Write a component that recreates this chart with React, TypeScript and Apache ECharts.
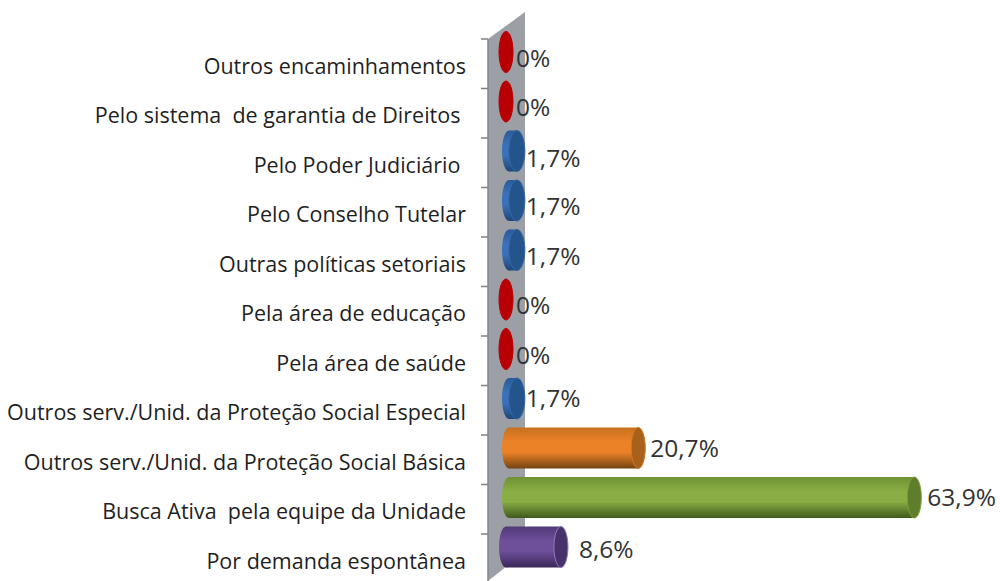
import React, { useEffect, useRef } from "react";
import * as echarts from "echarts";

const categories = [
  "Outros encaminhamentos",
  "Pelo sistema  de garantia de Direitos ",
  "Pelo Poder Judiciário ",
  "Pelo Conselho Tutelar",
  "Outras políticas setoriais",
  "Pela área de educação",
  "Pela área de saúde",
  "Outros serv./Unid. da Proteção Social Especial",
  "Outros serv./Unid. da Proteção Social Básica",
  "Busca Ativa  pela equipe da Unidade",
  "Por demanda espontânea",
];
const values = [0, 0, 1.7, 1.7, 1.7, 0, 0, 1.7, 20.7, 63.9, 8.6];

type Tone = { top: string; mid: string; bottom: string; cap: string; rim: string };
const red: Tone = { top: "#b00000", mid: "#c00006", bottom: "#a80000", cap: "#b80004", rim: "#b80004" };
const blue: Tone = { top: "#2a5a98", mid: "#3a72ba", bottom: "#1f4778", cap: "#24548c", rim: "#3468a8" };
const orange: Tone = { top: "#c8701f", mid: "#ec8228", bottom: "#744412", cap: "#a8611a", rim: "#d0772a" };
const green: Tone = { top: "#6f9233", mid: "#8aae44", bottom: "#3f5a1c", cap: "#5f7e2b", rim: "#7f9f3e" };
const purple: Tone = { top: "#523a78", mid: "#6d4f9a", bottom: "#3b2857", cap: "#46316a", rim: "#9278b8" };
const tones = [red, red, blue, blue, blue, red, red, blue, orange, green, purple];
const startShift = [0, 0, 3, 3, 3, 0, 0, 3, 3, 3, 0];
const labelDx = [3, 3, 2, 2, 2, 3, 3, 2, 5, 6, 11];
const labelDy = [5, 5, 6, 5, 5, 5, 5, -1, -1, -1, 1];

const fmt = (v: number) => String(v).replace(".", ",") + "%";

export default function App() {
  const ref = useRef<HTMLDivElement>(null);
  useEffect(() => {
    document.body.style.margin = "0";
    const chart = echarts.init(ref.current!, null, { renderer: "svg" });
    chart.setOption({
      animation: false,
      backgroundColor: "#ffffff",
      grid: { left: 506, top: 27.25, width: 447.3, height: 544.5, containLabel: false },
      xAxis: { type: "value", min: 0, max: 70, show: false },
      yAxis: {
        type: "category",
        inverse: true,
        data: categories,
        axisLine: { show: false },
        axisTick: { show: false },
        splitLine: { show: false },
        axisLabel: {
          margin: 40,
          fontFamily: "Open Sans",
          fontSize: 21.5,
          color: "#1f1f1f",
          verticalAlign: "top",
          lineHeight: 26,
        },
      },
      graphic: [
        {
          type: "polygon",
          z: 0,
          shape: { points: [[488, 39], [525, 12], [525, 552], [488, 581]] },
          style: { fill: "#9c9fa5" },
        },
        {
          type: "line",
          z: 0,
          shape: { x1: 488, y1: 39, x2: 488, y2: 581 },
          style: { stroke: "#85888d", lineWidth: 1.5 },
        },
      ],
      series: [
        {
          type: "custom",
          coordinateSystem: "cartesian2d",
          clip: false,
          encode: { x: 0, y: 1 },
          data: values.map((v, i) => [v, i]),
          renderItem: (_: any, api: any) => {
            const v = api.value(0);
            const i = api.value(1);
            const [cx, cy] = api.coord([v, i]);
            const [zx] = api.coord([0, i]);
            const rx = 7;
            const ry = 20.5;
            const t = tones[i];
            const sx = zx + startShift[i];
            const grad = {
              type: "linear", x: 0, y: 0, x2: 0, y2: 1,
              colorStops: [
                { offset: 0, color: t.top },
                { offset: 0.35, color: t.mid },
                { offset: 0.6, color: t.mid },
                { offset: 1, color: t.bottom },
              ],
            };
            const children: any[] = [
              {
                type: "line",
                shape: { x1: 481, y1: cy - 13, x2: 488, y2: cy - 13 },
                style: { stroke: "#808080", lineWidth: 1.5 },
              },
            ];
            if (v > 0) {
              children.push(
                { type: "ellipse", shape: { cx: sx, cy, rx, ry }, style: { fill: grad } },
                { type: "rect", shape: { x: sx, y: cy - ry, width: cx - sx, height: 2 * ry }, style: { fill: grad } },
              );
            }
            children.push({
              type: "ellipse",
              shape: { cx, cy, rx: v > 0 ? rx + (v < 5 ? 1 : 0) : rx, ry },
              style: { fill: t.cap, stroke: t.rim, lineWidth: 1 },
            });
            children.push({
              type: "text",
              style: {
                text: fmt(v),
                x: cx + rx + labelDx[i],
                y: cy + labelDy[i],
                align: "left",
                verticalAlign: "middle",
                fontFamily: "Open Sans",
                fontSize: 24.5,
                fill: "#333333",
              },
            });
            return { type: "group", children };
          },
        },
      ],
    });
    return () => chart.dispose();
  }, []);
  return <div ref={ref} style={{ width: 1000, height: 581 }} />;
}
